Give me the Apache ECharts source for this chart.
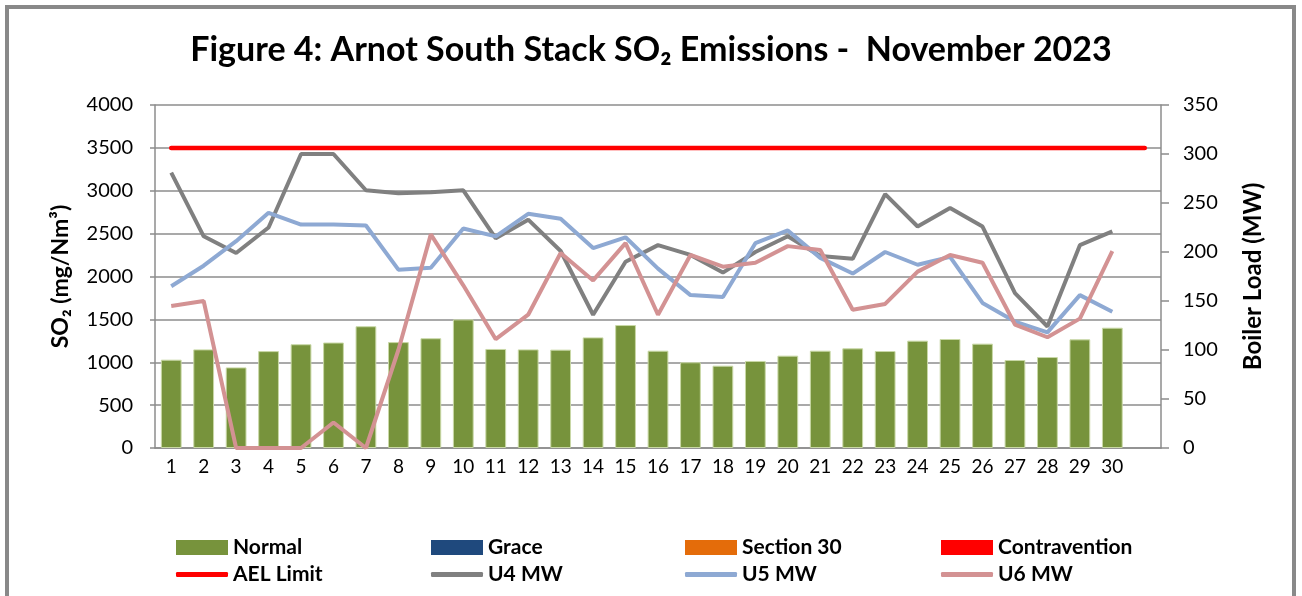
<!DOCTYPE html>
<html>
<head>
<meta charset="utf-8">
<script src="https://cdn.jsdelivr.net/npm/echarts@6/dist/echarts.min.js"></script>
<style>
html,body{margin:0;padding:0;background:#fff;}
#chart{width:1302px;height:596px;}
</style>
</head>
<body>
<div id="chart"></div>
<script>
const days = ['1','2','3','4','5','6','7','8','9','10','11','12','13','14','15','16','17','18','19','20','21','22','23','24','25','26','27','28','29','30',''];
const normal = [1030,1150,940,1130,1210,1230,1420,1235,1280,1500,1155,1150,1147,1290,1434,1135,1000,960,1015,1077,1135,1162,1131,1252,1271,1217,1026,1061,1267,1403];
const grace = [];
const section30 = [];
const contravention = [];
const aelLimit = [3500,3500,3500,3500,3500,3500,3500,3500,3500,3500,3500,3500,3500,3500,3500,3500,3500,3500,3500,3500,3500,3500,3500,3500,3500,3500,3500,3500,3500,3500,3500];
const u4 = [281,216,199,225,300,300,263,260,261,263,214,233,201,136,190,207,197,179,200,216,196,193,259,226,245,226,158,124,207,221];
const u5 = [165,186,211,240,228,228,227,182,184,224,216,239,234,204,215,183,156,154,209,222,194,178,200,187,195,148,129,118,156,139];
const u6 = [145,150,0,0,0,26,0,100,218,166,111,136,199,171,209,136,197,185,189,206,202,141,147,180,197,189,126,113,132,201];
const leftTicks = {min:0, max:4000, interval:500};
const rightTicks = {min:0, max:350, interval:50};

const FONT = 'Lato';
const gridGray = '#8c8c8c';
const chart = echarts.init(document.getElementById('chart'), null, {renderer:'canvas'});

function leg(name, x, y, icon, h) {
  return {
    left: x, top: y, orient: 'horizontal', padding: 0,
    data: [{name: name, icon: icon}],
    itemWidth: 52, itemHeight: h, itemGap: 0,
    itemStyle: {borderWidth: 0},
    textStyle: {fontFamily: FONT, fontSize: 21, fontWeight: 'bold', color: '#000', padding:[0,0,0,0]},
    selectedMode: false
  };
}
const r1 = 537, r2 = 564;
const option = {
  animation: false,
  backgroundColor: '#fff',
  title: {
    text: 'Figure 4: Arnot South Stack SO\u2082 Emissions -  November 2023',
    left: 'center', top: 28,
    textStyle: {fontFamily: FONT, fontSize: 34, fontWeight: 'bold', color: '#000'}
  },
  graphic: [{
    type: 'rect', shape: {x: 7, y: 7, width: 1287, height: 640},
    style: {fill: 'none', stroke: '#898989', lineWidth: 4}, silent: true
  }],
  legend: [
    leg('Normal', 176, r1, 'rect', 15),
    leg('Grace', 431, r1, 'rect', 15),
    leg('Section 30', 685, r1, 'rect', 15),
    leg('Contravention', 941, r1, 'rect', 15),
    leg('AEL Limit', 176, r2, 'roundRect', 5),
    leg('U4 MW', 431, r2, 'roundRect', 5),
    leg('U5 MW', 685, r2, 'roundRect', 5),
    leg('U6 MW', 941, r2, 'roundRect', 5)
  ],
  grid: {left: 155, right: 141, top: 105, bottom: 148, containLabel: false},
  xAxis: {
    type: 'category', data: days, boundaryGap: true,
    axisLine: {lineStyle: {color: gridGray, width: 1.5}},
    axisTick: {alignWithLabel: true, length: 6, lineStyle: {color: gridGray, width: 1.5}},
    axisLabel: {interval: 0, fontFamily: FONT, fontSize: 19, color: '#000', margin: 9}
  },
  yAxis: [{
    type: 'value', min: leftTicks.min, max: leftTicks.max, interval: leftTicks.interval,
    name: 'SO\u2082 (mg/Nm\u00b3)', nameLocation: 'middle', nameGap: 83, nameRotate: 90,
    nameTextStyle: {fontFamily: FONT, fontSize: 23, fontWeight: 'bold', color: '#000'},
    axisLine: {show: true, lineStyle: {color: gridGray, width: 1.5}},
    axisTick: {show: true, length: 5, lineStyle: {color: gridGray, width: 1.5}},
    axisLabel: {fontFamily: FONT, fontSize: 20, color: '#000', margin: 22, formatter: v => String(v)},
    splitLine: {show: true, lineStyle: {color: gridGray, width: 1.5}}
  }, {
    type: 'value', min: rightTicks.min, max: rightTicks.max, interval: rightTicks.interval,
    position: 'right',
    name: 'Boiler Load (MW)', nameLocation: 'middle', nameGap: 80, nameRotate: 90,
    nameTextStyle: {fontFamily: FONT, fontSize: 24, fontWeight: 'bold', color: '#000'},
    axisLine: {show: true, lineStyle: {color: gridGray, width: 1.5}},
    axisTick: {show: true, length: 8, lineStyle: {color: gridGray, width: 1.5}},
    axisLabel: {fontFamily: FONT, fontSize: 20, color: '#000', margin: 22, formatter: v => String(v)},
    splitLine: {show: false}
  }],
  series: [
    {name: 'Normal', type: 'bar', stack: 's', data: normal, barWidth: '64%',
      itemStyle: {color: '#77933C', borderColor: '#C9D8A6', borderWidth: 1}, yAxisIndex: 0},
    {name: 'Grace', type: 'bar', stack: 's', data: grace, itemStyle: {color: '#1F497D'}, yAxisIndex: 0},
    {name: 'Section 30', type: 'bar', stack: 's', data: section30, itemStyle: {color: '#E46C0A'}, yAxisIndex: 0},
    {name: 'Contravention', type: 'bar', stack: 's', data: contravention, itemStyle: {color: '#FF0000'}, yAxisIndex: 0},
    {name: 'AEL Limit', type: 'line', data: aelLimit, yAxisIndex: 0, showSymbol: false, symbol: 'none',
      lineStyle: {color: '#FF0000', width: 4.5, cap: 'round'}, itemStyle: {color: '#FF0000'}, z: 5},
    {name: 'U4 MW', type: 'line', data: u4, yAxisIndex: 1, symbol: 'none',
      lineStyle: {color: '#808080', width: 4}, itemStyle: {color: '#808080'}, z: 4},
    {name: 'U5 MW', type: 'line', data: u5, yAxisIndex: 1, symbol: 'none',
      lineStyle: {color: '#8EA9D3', width: 4}, itemStyle: {color: '#8EA9D3'}, z: 4},
    {name: 'U6 MW', type: 'line', data: u6, yAxisIndex: 1, symbol: 'none',
      lineStyle: {color: '#D39293', width: 4}, itemStyle: {color: '#D39293'}, z: 4}
  ]
};
chart.setOption(option);
</script>
</body>
</html>
